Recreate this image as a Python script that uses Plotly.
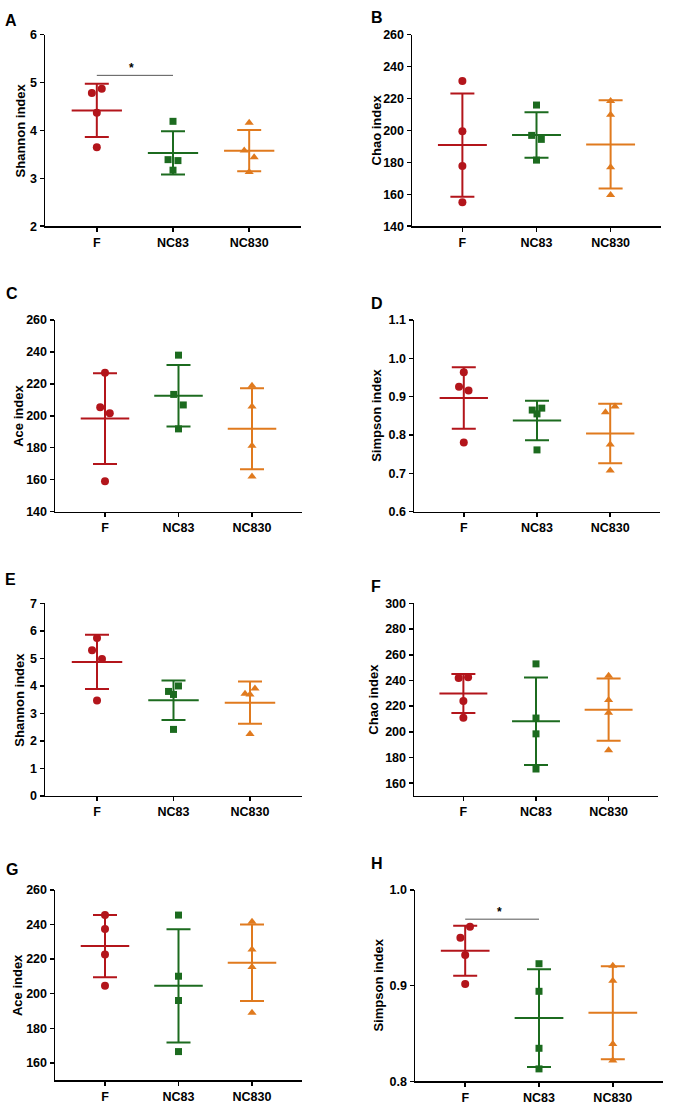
import numpy as np
import plotly.graph_objects as go

W, H = 675, 1115

groups = ["F", "NC83", "NC830"]
colors = ["#B3151B", "#1C6B1F", "#E07A1E"]
symbols = ["circle", "square", "triangle-up"]
msizes = [8, 7, 8]

# ---------------- data ----------------
A_F = [4.78, 4.87, 4.37, 3.65]
A_NC83 = [4.19, 3.39, 3.37, 3.17]
A_NC830 = [4.16, 3.58, 3.44, 3.13]

B_F = [231.0, 199.5, 177.7, 155.0]
B_NC83 = [215.9, 196.9, 194.4, 181.4]
B_NC830 = [218.4, 209.9, 177.0, 159.6]

C_F = [227.0, 205.4, 201.6, 159.0]
C_NC83 = [238.0, 213.4, 206.8, 191.8]
C_NC830 = [218.8, 205.8, 181.2, 161.9]

D_F = [0.964, 0.926, 0.916, 0.780]
D_NC83 = [0.865, 0.870, 0.855, 0.761]
D_NC830 = [0.859, 0.874, 0.775, 0.707]

E_F = [5.74, 5.30, 4.98, 3.47]
E_NC83 = [3.80, 3.69, 4.00, 2.42]
E_NC830 = [3.72, 3.69, 3.91, 2.25]

F_F = [241.9, 242.4, 224.0, 210.9]
F_NC83 = [252.9, 210.7, 198.4, 171.0]
F_NC830 = [243.7, 224.7, 214.8, 185.6]

G_F = [245.4, 237.4, 222.6, 204.6]
G_NC83 = [245.4, 210.1, 196.1, 166.6]
G_NC830 = [241.6, 225.5, 215.4, 189.0]

H_F = [0.9614, 0.950, 0.932, 0.9017]
H_NC83 = [0.9228, 0.894, 0.8345, 0.813]
H_NC830 = [0.9207, 0.905, 0.839, 0.8217]

y_titles = ["Shannon index", "Chao index", "Ace index", "Simpson index",
            "Shannon index", "Chao index", "Ace index", "Simpson index"]
letters = ["A", "B", "C", "D", "E", "F", "G", "H"]

# significance bars (F vs NC83)
sig_A = 5.15
sig_H = 0.9693

# ---------------- layout / style config ----------------
# jitter multipliers (horizontal spread of overlapping points)
jit = {
    "A": [[-1, 1, 0, 0], [0, -1, 1, 0], [0, -1, 1, 0]],
    "B": [[0, 0, 0, 0], [0, -1, 1, 0], [0, 0, 0, 0]],
    "C": [[0, -1, 1, 0], [0, -1, 1, 0], [0, 0, 0, 0]],
    "D": [[0, -1, 1, 0], [-1, 1, 0, 0], [-1, 1, 0, 0]],
    "E": [[0, -1, 1, 0], [-1, 0, 1, 0], [-1, 0, 1, 0]],
    "F": [[-1, 1, 0, 0], [0, 0, 0, 0], [0, 0, 0, 0]],
    "G": [[0, 0, 0, 0], [0, 0, 0, 0], [0, 0, 0, 0]],
    "H": [[1, -1, 0, 0], [0, 0, 0, 0], [0, 0, 0, 0]],
}
JSTEP = 0.065

panels = [
    ("A", [A_F, A_NC83, A_NC830], (45, 301), (28, 222), [2, 6], list(range(2, 7)), None),
    ("B", [B_F, B_NC83, B_NC830], (412, 661), (28, 222), [140, 260], list(range(140, 261, 20)), None),
    ("C", [C_F, C_NC83, C_NC830], (55, 302), (317, 511), [140, 260], list(range(140, 261, 20)), None),
    ("D", [D_F, D_NC83, D_NC830], (414, 660), (317, 511), [0.6, 1.1], [0.6, 0.7, 0.8, 0.9, 1.0, 1.1], ".1f"),
    ("E", [E_F, E_NC83, E_NC830], (45, 302), (604, 799), [0, 7], list(range(0, 8)), None),
    ("F", [F_F, F_NC83, F_NC830], (414, 658), (604, 799), [150, 300], list(range(160, 301, 20)), None),
    ("G", [G_F, G_NC83, G_NC830], (55, 302), (894, 1087), [150, 260], list(range(160, 261, 20)), None),
    ("H", [H_F, H_NC83, H_NC830], (415, 663), (894, 1088), [0.8, 1.0], [0.8, 0.9, 1.0], ".1f"),
]
title_x = [20, 376, 19, 377, 20, 374, 17, 379]
letter_pos = [(11, 14), (377, 11), (12, 290), (377, 300), (11, 580), (376, 587), (12, 873), (377, 867)]

XR = [-0.68, 2.68]
FONT = "Liberation Sans, Arial, sans-serif"


def px2x(p):
    return p / W


def px2y(p):
    return 1 - p / H


fig = go.Figure()
layout = dict(
    width=W, height=H, margin=dict(l=0, r=0, t=0, b=0),
    paper_bgcolor="white", plot_bgcolor="white", showlegend=False,
    font=dict(family=FONT, color="black"),
)
annotations = []
shapes = []

for k, (lab, data, xd, yd, yr, tv, tf) in enumerate(panels):
    n = "" if k == 0 else str(k + 1)
    xa, ya = "x" + n, "y" + n
    for gi, vals in enumerate(data):
        xs = [gi + JSTEP * j for j in jit[lab][gi]]
        fig.add_trace(go.Scatter(
            x=xs, y=vals, mode="markers", xaxis=xa, yaxis=ya,
            marker=dict(symbol=symbols[gi], size=msizes[gi], color=colors[gi], line=dict(width=0)),
            hoverinfo="skip", cliponaxis=False,
        ))
        arr = np.array(vals)
        m = float(arr.mean())
        sd = float(arr.std(ddof=1))
        fig.add_trace(go.Scatter(
            x=[gi], y=[m], mode="markers", xaxis=xa, yaxis=ya,
            marker=dict(size=1, color=colors[gi], opacity=0),
            error_y=dict(type="data", array=[sd], width=12, thickness=2, color=colors[gi]),
            error_x=dict(type="data", array=[0.33], width=0, thickness=2, color=colors[gi]),
            hoverinfo="skip", cliponaxis=False,
        ))
    layout["xaxis" + n] = dict(
        domain=[px2x(xd[0]), px2x(xd[1])], range=XR, anchor=ya,
        tickvals=[0, 1, 2], ticktext=groups, showgrid=False, zeroline=False,
        showline=True, linecolor="black", linewidth=1.5,
        ticks="outside", ticklen=4, tickwidth=1.5, tickcolor="black",
        ticklabelstandoff=0,
        tickfont=dict(family=FONT, size=12.5, color="black", weight="bold"),
        fixedrange=True,
    )
    layout["yaxis" + n] = dict(
        domain=[px2y(yd[1]), px2y(yd[0])], range=yr, anchor=xa,
        tickvals=tv, tickformat=tf, showgrid=False, zeroline=False,
        showline=True, linecolor="black", linewidth=1.5,
        ticks="outside", ticklen=4, tickwidth=1.5, tickcolor="black",
        tickfont=dict(family=FONT, size=12.5, color="black", weight="bold"),
        fixedrange=True,
    )
    annotations.append(dict(
        x=px2x(title_x[k]), y=px2y((yd[0] + yd[1]) / 2), xref="paper", yref="paper",
        text=y_titles[k], textangle=-90, showarrow=False,
        font=dict(family=FONT, size=13, color="black", weight="bold"),
        xanchor="center", yanchor="middle",
    ))
    lx, ly = letter_pos[k]
    annotations.append(dict(
        x=px2x(lx), y=px2y(ly), xref="paper", yref="paper", text=lab, showarrow=False,
        font=dict(family=FONT, size=16, color="black", weight="bold"),
        xanchor="center", yanchor="middle",
    ))

for k, yv in [(0, sig_A), (7, sig_H)]:
    n = "" if k == 0 else str(k + 1)
    shapes.append(dict(type="line", xref="x" + n, yref="y" + n, x0=0, x1=1, y0=yv, y1=yv,
                       line=dict(color="#555555", width=1)))
    annotations.append(dict(x=0.46, y=yv, xref="x" + n, yref="y" + n, text="*", showarrow=False,
                            font=dict(family=FONT, size=12, color="black", weight="bold"),
                            yanchor="bottom", yshift=-2))

layout["annotations"] = annotations
layout["shapes"] = shapes
fig.update_layout(**layout)
fig.write_html(
    "out.html",
    config={"displayModeBar": False, "staticPlot": True},
    post_script="document.body.style.margin='0';document.body.style.overflow='hidden';",
)
